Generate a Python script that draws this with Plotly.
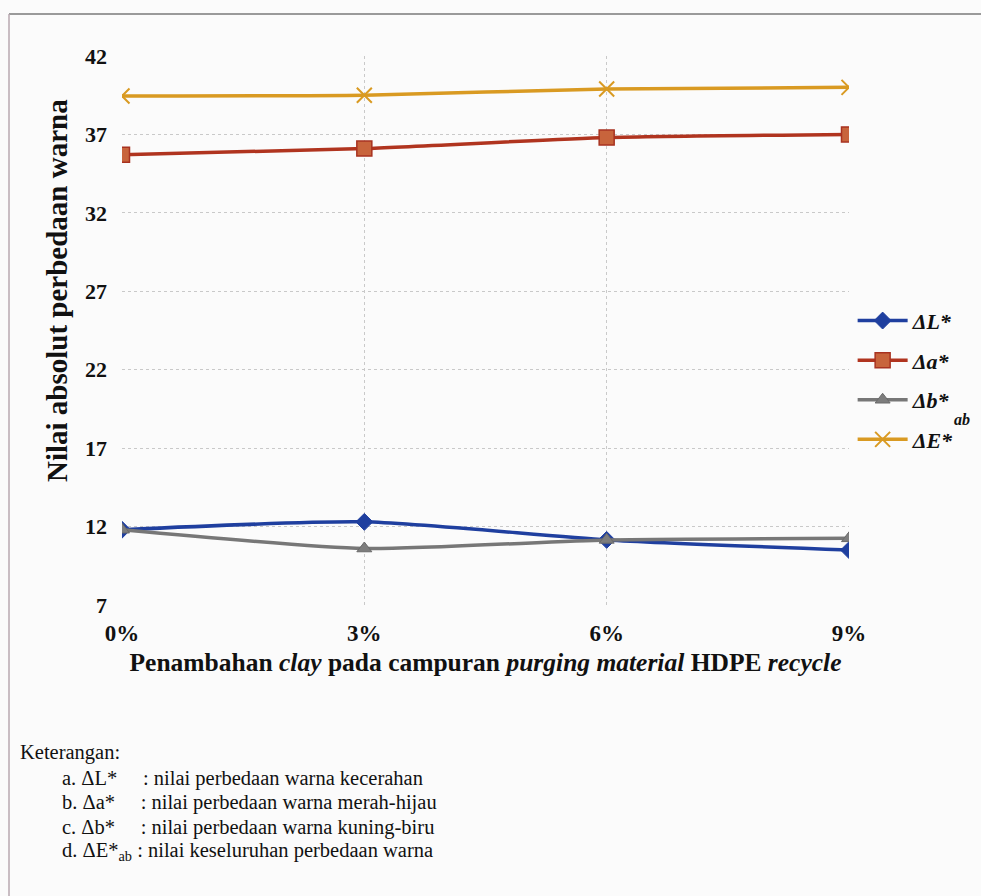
import plotly.graph_objects as go

# ---- data ----
clay_pct = [0, 3, 6, 9]
clay_labels = ["0%", "3%", "6%", "9%"]
delta_L = [11.8, 12.3, 11.15, 10.5]
delta_a = [35.7, 36.1, 36.8, 37.0]
delta_b = [11.8, 10.6, 11.15, 11.25]
delta_E = [39.45, 39.5, 39.9, 40.0]
y_ticks = [7, 12, 17, 22, 27, 32, 37, 42]

SERIF = "Liberation Serif, Times New Roman, serif"

fig = go.Figure()

series = [
    ("<b><i>ΔL*</i></b>", delta_L, dict(symbol="diamond", size=13, color="#1f3f9f",
                                   line=dict(color="#1f3f9f", width=1)), "#1f3f9f"),
    ("<b><i>Δa*</i></b>", delta_a, dict(symbol="square", size=15, color="#c8643c",
                                   line=dict(color="#a83220", width=1.5)), "#b0341f"),
    ("<b><i>Δb*</i></b>", delta_b, dict(symbol="triangle-up", size=13, color="#7d7d7d",
                                   line=dict(color="#6a6a6a", width=1)), "#777777"),
    ("<b><i>ΔE*</i></b>", delta_E, dict(symbol="x-thin", size=15, color="#d99a22",
                                   line=dict(color="#d99a22", width=2)), "#d99a22"),
]

for i, (name, vals, marker, lc) in enumerate(series):
    fig.add_trace(go.Scatter(
        x=clay_pct, y=vals, name=name, mode="lines+markers",
        line=dict(color=lc, width=3.5, shape="spline", smoothing=0.6),
        marker=marker, legendgroup=f"g{i}",
    ))

fig.update_layout(
    width=981, height=896,
    margin=dict(l=122, r=132, t=56, b=291),
    paper_bgcolor="#fbfbfb", plot_bgcolor="#fbfbfb",
    font=dict(family=SERIF, color="#111111"),
    showlegend=True,
    legend=dict(
        x=1.005, y=0.556, xanchor="left", yanchor="top",
        font=dict(family=SERIF, size=22, color="#111111"),
        bgcolor="rgba(0,0,0,0)", traceorder="grouped", tracegroupgap=8,
        itemwidth=50,
    ),
    xaxis=dict(
        range=[0, 9], tickmode="array", tickvals=clay_pct, ticktext=[f"<b>{t}</b>" for t in clay_labels],
        showgrid=True, gridcolor="#c9c9c9", griddash="dot", gridwidth=1,
        zeroline=False, showline=False, ticks="", ticklabelstandoff=12,
        tickfont=dict(family=SERIF, size=23, color="#111111"),
        title=dict(
            text="<b>Penambahan <i>clay</i> pada campuran <i>purging material</i> HDPE <i>recycle</i></b>",
            font=dict(family=SERIF, size=25.5, color="#111111"), standoff=8,
        ),
    ),
    yaxis=dict(
        range=[7, 42], tickmode="array", tickvals=y_ticks, ticktext=[f"<b>{t}</b>" for t in y_ticks],
        showgrid=True, gridcolor="#c9c9c9", griddash="dot", gridwidth=1,
        zeroline=False, showline=False, ticks="", ticklabelstandoff=14,
        tickfont=dict(family=SERIF, size=22, color="#111111"),
    ),
)

# y-axis title placed as rotated text
fig.add_annotation(text="<b>Nilai absolut perbedaan warna</b>", xref="paper", yref="paper",
                   x=(57-122)/727, y=(605-291)/549, xanchor="center", yanchor="middle",
                   textangle=-90, showarrow=False,
                   font=dict(family=SERIF, size=29, color="#111111"))

# page frame lines
fig.add_shape(type="line", xref="paper", yref="paper", x0=-113/727, x1=859/727,
              y0=(605-14)/549, y1=(605-14)/549, line=dict(color="#7a7a7a", width=1.5))
fig.add_shape(type="line", xref="paper", yref="paper", x0=-113/727, x1=-113/727,
              y0=(605-14)/549, y1=-291/549, line=dict(color="#b9a9b0", width=1.5))

# "ab" subscript beside legend
fig.add_annotation(text="<b><i>ab</i></b>", xref="paper", yref="paper",
                   x=(962-122)/727, y=(605-419)/549, xanchor="center", yanchor="middle",
                   showarrow=False, font=dict(family=SERIF, size=16, color="#111111"))

# Keterangan block
notes = [
    ("Keterangan:", 18, 752),
    ("a. ΔL*     : nilai perbedaan warna kecerahan", 60, 778),
    ("b. Δa*     : nilai perbedaan warna merah-hijau", 60, 802),
    ("c. Δb*     : nilai perbedaan warna kuning-biru", 60, 827),
    ("d. ΔE*<sub>ab</sub> : nilai keseluruhan perbedaan warna", 60, 851),
]
for txt, px, py in notes:
    fig.add_annotation(text=txt, xref="paper", yref="paper",
                       x=(px-122)/727, y=(605-py)/549, xanchor="left", yanchor="middle",
                       showarrow=False, font=dict(family=SERIF, size=20.5, color="#111111"))

fig.write_html("out.html")
